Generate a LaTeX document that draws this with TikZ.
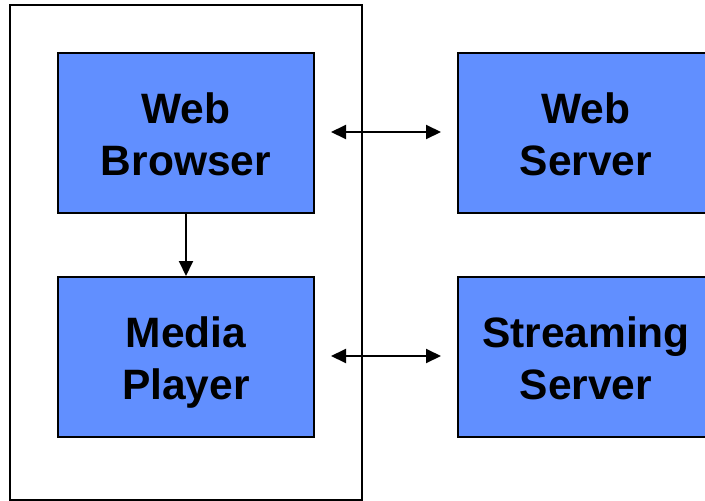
\documentclass[tikz,border=0pt]{standalone}
\usepackage{fontspec}
\setmainfont{Liberation Sans}
\usetikzlibrary{arrows.meta}
\definecolor{boxblue}{RGB}{97,143,255}
\tikzset{
  label font/.style={font=\fontsize{42.5}{52}\selectfont\bfseries, align=center},
  unit/.style={draw=black, line width=2pt, fill=boxblue, minimum width=256pt, minimum height=160pt, inner sep=0pt},
  tip/.style={-{Triangle[length=15pt,width=14pt]}},
  link/.style={line width=2pt, -{Triangle[length=15pt,width=14pt]}},
  duplex/.style={line width=2pt, {Triangle[length=15pt,width=14pt]}-{Triangle[length=15pt,width=14pt]}}
}
\begin{document}
\begin{tikzpicture}[x=1pt,y=-1pt]
\useasboundingbox (0,0) rectangle (705,501);
% client machine frame
\draw[line width=2pt] (10,5) rectangle (362,500);
% client components
\node[unit] (browser) at (186,133) {};
\node[unit] (player) at (186,357) {};
% servers (extending past the right edge)
\node[unit, minimum width=260pt] (webserver) at (588,133) {};
\node[unit, minimum width=260pt] (streamserver) at (588,357) {};
% labels
\node[label font] (bwtext) at (186,134) {Web\\Browser};
\node[label font] (mptext) at (186,363) {Media\\Player};
\node[label font] (wstext) at (586,134) {Web\\Server};
\node[label font] (sstext) at (586,358) {Streaming\\Server};
% connectors
\coordinate (a1) at (331,132);
\coordinate (a2) at (441,132);
\coordinate (b1) at (331,356);
\coordinate (b2) at (441,356);
\draw[duplex] (a1) -- (a2);
\draw[duplex] (b1) -- (b2);
\draw[link] (browser.south) -- (player.north);
\end{tikzpicture}
\end{document}
